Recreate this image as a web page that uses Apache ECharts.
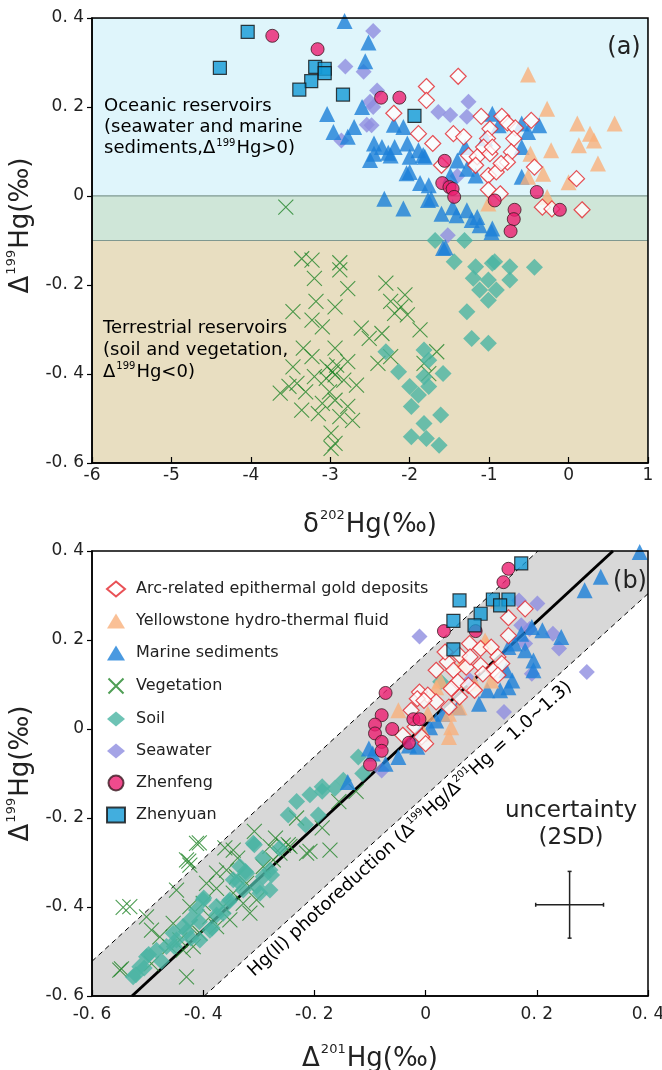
<!DOCTYPE html>
<html>
<head>
<meta charset="utf-8">
<script src="https://cdn.jsdelivr.net/npm/echarts@6/dist/echarts.min.js"></script>
<style>
html,body{margin:0;padding:0;background:#fff;}
#c{width:662px;height:1070px;}
</style>
</head>
<body>
<div id="c"></div>
<script>
// ---------------- DATA ----------------
const seriesNames = ['Arc-related epithermal gold deposits','Yellowstone hydro-thermal fluid','Marine sediments','Vegetation','Soil','Seawater','Zhenfeng','Zhenyuan'];

const topXTicks = [-6,-5,-4,-3,-2,-1,0,1];
const bottomXTicks = [-0.6,-0.4,-0.2,0,0.2,0.4];
const yTicks = [-0.6,-0.4,-0.2,0,0.2,0.4];

// Panel (a): x = δ202Hg, y = Δ199Hg
const zhenyuanTop = [[-4.04,0.369],[-4.39,0.288],[-3.19,0.290],[-3.07,0.286],[-3.07,0.276],[-3.24,0.258],[-3.39,0.239],[-2.84,0.228],[-1.94,0.180]];
const zhenfengTop = [[-3.73,0.360],[-3.16,0.330],[-2.36,0.221],[-2.13,0.221],[-1.56,0.079],[-1.59,0.029],[-1.50,0.020],[-1.46,0.016],[-1.44,-0.002],[-0.93,-0.010],[-0.68,-0.031],[-0.69,-0.052],[-0.73,-0.079],[-0.40,0.009],[-0.11,-0.031]];
const arcTop = [[-1.39,0.269],[-1.79,0.246],[-1.79,0.215],[-2.20,0.186],[-1.89,0.140],[-1.71,0.118],[-1.60,0.069],[-1.45,0.140],[-1.32,0.133],[-1.10,0.179],[-0.84,0.179],[-0.77,0.164],[-0.67,0.153],[-0.47,0.170],[-0.99,0.151],[-1.02,0.129],[-1.07,0.110],[-0.69,0.129],[-1.26,0.091],[-1.15,0.088],[-0.99,0.095],[-0.72,0.099],[-0.77,0.076],[-1.17,0.069],[-1.01,0.046],[-0.91,0.054],[-0.43,0.065],[0.10,0.039],[-1.01,0.014],[-0.86,0.005],[-0.33,-0.025],[-0.21,-0.029],[0.17,-0.031],[-0.96,0.110],[-0.85,0.073]];
const yellowTop = [[-0.51,0.273],[-0.27,0.196],[0.11,0.163],[0.58,0.163],[0.27,0.140],[0.32,0.125],[0.13,0.114],[-0.22,0.103],[0.37,0.073],[-0.48,0.095],[-0.51,0.043],[-0.32,0.050],[0.00,0.031],[-1.01,-0.017],[-0.27,-0.002]];
const marineTop = [[-2.82,0.393],[-2.52,0.345],[-2.56,0.303],[-3.04,0.184],[-2.96,0.144],[-2.78,0.133],[-2.70,0.155],[-2.45,0.118],[-2.35,0.110],[-2.19,0.110],[-2.03,0.118],[-2.45,0.095],[-2.24,0.091],[-2.08,0.155],[-1.89,0.103],[-1.81,0.088],[-2.00,0.054],[-1.76,0.024],[-1.49,0.046],[-1.28,0.061],[-1.17,0.046],[-0.96,0.185],[-0.88,0.159],[-0.59,0.163],[-0.37,0.159],[-0.51,0.144],[-0.59,0.110],[-0.59,0.043],[-2.32,-0.006],[-2.08,-0.028],[-1.73,-0.006],[-1.60,-0.040],[-1.46,-0.025],[-1.28,-0.032],[-1.15,-0.047],[-0.96,-0.073],[-1.12,-0.066],[-1.55,-0.115],[-2.50,0.081],[-2.04,0.051],[-1.77,-0.009],[-1.41,-0.043],[-1.22,-0.054],[-0.97,-0.081],[-1.58,-0.117],[-2.27,0.097],[-2.00,0.088],[-1.83,0.092],[-1.87,0.029],[-1.30,0.110],[-1.05,0.130],[-1.40,0.080],[-2.60,0.200],[-2.20,0.160]];
const seawaterTop = [[-2.46,0.371],[-2.81,0.291],[-2.58,0.279],[-2.41,0.237],[-2.46,0.200],[-2.50,0.212],[-2.48,0.159],[-2.86,0.125],[-1.64,0.189],[-1.49,0.182],[-1.26,0.212],[-1.28,0.178],[-1.40,0.045],[-1.52,-0.088],[-2.54,0.160]];
const soilTop = [[-1.68,-0.100],[-1.31,-0.100],[-1.44,-0.148],[-0.93,-0.148],[-0.43,-0.160],[-1.17,-0.159],[-0.96,-0.151],[-0.74,-0.159],[-1.20,-0.185],[-1.01,-0.189],[-0.74,-0.189],[-1.12,-0.211],[-0.91,-0.211],[-1.01,-0.234],[-1.28,-0.260],[-1.22,-0.320],[-1.01,-0.331],[-2.30,-0.350],[-2.14,-0.395],[-1.82,-0.346],[-1.76,-0.369],[-1.58,-0.399],[-2.00,-0.428],[-1.89,-0.447],[-1.82,-0.406],[-1.98,-0.473],[-1.61,-0.492],[-1.82,-0.511],[-1.98,-0.541],[-1.79,-0.545],[-1.63,-0.560],[-1.76,-0.428]];
const vegetationTop = [[-3.56,-0.025],[-3.36,-0.141],[-3.23,-0.144],[-2.88,-0.150],[-2.88,-0.166],[-3.20,-0.185],[-2.78,-0.208],[-3.47,-0.260],[-3.23,-0.279],[-2.94,-0.249],[-3.18,-0.237],[-3.10,-0.294],[-3.34,-0.342],[-2.94,-0.342],[-2.78,-0.372],[-2.61,-0.297],[-2.51,-0.320],[-2.35,-0.309],[-2.24,-0.237],[-2.19,-0.264],[-2.11,-0.249],[-2.03,-0.267],[-2.30,-0.196],[-2.06,-0.222],[-1.87,-0.301],[-2.24,-0.361],[-2.40,-0.376],[-1.66,-0.350],[-1.82,-0.376],[-1.76,-0.399],[-3.47,-0.384],[-3.42,-0.421],[-3.31,-0.440],[-3.20,-0.406],[-3.04,-0.384],[-2.94,-0.402],[-2.83,-0.414],[-2.67,-0.425],[-3.10,-0.466],[-2.94,-0.459],[-2.78,-0.473],[-3.36,-0.481],[-3.15,-0.489],[-2.88,-0.496],[-2.72,-0.504],[-2.99,-0.533],[-2.94,-0.556],[-2.99,-0.567],[-3.23,-0.361],[-3.01,-0.440],[-3.63,-0.443],[-3.52,-0.428],[-2.97,-0.395],[-3.05,-0.410],[-2.92,-0.380]];

// Panel (b): x = Δ201Hg, y = Δ199Hg
const zhenyuanBottom = [[0.172,0.372],[0.061,0.289],[0.121,0.291],[0.149,0.291],[0.134,0.278],[0.099,0.259],[0.050,0.243],[0.088,0.233],[0.050,0.179]];
const zhenfengBottom = [[0.149,0.360],[0.140,0.330],[0.033,0.220],[0.090,0.220],[-0.072,0.081],[-0.079,0.031],[-0.091,0.010],[-0.091,-0.010],[-0.079,-0.029],[-0.079,-0.049],[-0.060,0.000],[-0.030,-0.031],[-0.022,0.022],[-0.011,0.022],[-0.100,-0.080]];
const arcBottom = [[0.179,0.270],[0.149,0.250],[0.149,0.210],[0.079,0.192],[0.099,0.181],[0.118,0.184],[0.130,0.162],[0.061,0.166],[0.039,0.151],[0.019,0.132],[0.050,0.132],[0.073,0.139],[0.099,0.143],[0.122,0.132],[0.137,0.147],[0.130,0.121],[0.058,0.106],[0.077,0.098],[0.088,0.087],[0.046,0.091],[0.061,0.072],[-0.011,0.083],[0.004,0.076],[0.019,0.061],[-0.015,0.068],[0.042,0.049],[-0.041,-0.014],[-0.019,0.005],[-0.007,-0.018],[0.000,-0.033],[0.035,0.173],[0.080,0.162],[0.103,0.124],[-0.026,0.042],[-0.003,0.064]];
const yellowBottom = [[-0.049,0.042],[0.046,0.004],[0.042,-0.018],[0.065,0.147],[0.107,0.199],[0.118,0.109],[0.042,0.034],[-0.003,-0.010],[0.061,0.049],[0.130,0.289],[0.019,0.094],[0.088,0.102],[0.004,0.034],[0.110,0.192],[0.027,0.109]];
const marineBottom = [[0.385,0.398],[0.315,0.342],[0.286,0.312],[0.210,0.222],[0.244,0.207],[0.191,0.229],[0.179,0.177],[0.194,0.154],[0.160,0.192],[0.145,0.132],[0.156,0.109],[0.134,0.087],[0.111,0.087],[0.096,0.057],[0.149,0.184],[0.194,0.132],[0.149,0.094],[0.019,0.019],[0.008,0.004],[-0.011,-0.010],[-0.030,-0.037],[-0.015,-0.040],[-0.049,-0.063],[-0.072,-0.078],[-0.095,-0.055],[-0.102,-0.044],[-0.140,-0.119],[0.058,0.049],[0.031,0.034],[0.172,0.214]];
const seawaterBottom = [[-0.011,0.208],[0.168,0.289],[0.201,0.282],[0.172,0.233],[0.187,0.225],[0.229,0.214],[0.240,0.181],[0.290,0.128],[0.179,0.192],[0.191,0.124],[0.141,0.038],[-0.079,-0.093],[0.080,0.109]];
const soilBottom = [[-0.521,-0.552],[-0.498,-0.507],[-0.475,-0.522],[-0.506,-0.537],[-0.452,-0.489],[-0.430,-0.455],[-0.407,-0.433],[-0.399,-0.380],[-0.376,-0.418],[-0.354,-0.388],[-0.338,-0.342],[-0.324,-0.320],[-0.308,-0.260],[-0.293,-0.290],[-0.277,-0.328],[-0.263,-0.268],[-0.247,-0.193],[-0.232,-0.163],[-0.208,-0.148],[-0.186,-0.140],[-0.163,-0.133],[-0.216,-0.215],[-0.193,-0.193],[-0.384,-0.447],[-0.422,-0.470],[-0.121,-0.063],[-0.113,-0.100],[-0.148,-0.115],[-0.186,-0.130],[0.027,0.106],
  [-0.310,-0.257],[-0.334,-0.309],[-0.322,-0.324],[-0.346,-0.339],[-0.292,-0.332],[-0.280,-0.317],[-0.304,-0.354],[-0.400,-0.384],[-0.412,-0.407],[-0.424,-0.429],[-0.376,-0.399],[-0.352,-0.384],[-0.436,-0.444],[-0.454,-0.459],[-0.466,-0.489],[-0.484,-0.497],[-0.502,-0.512],[-0.514,-0.534],[-0.526,-0.557],[-0.448,-0.474],[-0.406,-0.474],[-0.388,-0.452],[-0.364,-0.414],[-0.328,-0.362],[-0.280,-0.362],[-0.298,-0.369]];
const vegetationBottom = [[-0.308,-0.230],[-0.247,-0.260],[-0.186,-0.222],[-0.156,-0.163],[-0.125,-0.140],[-0.270,-0.245],[-0.232,-0.200],[-0.407,-0.256],[-0.361,-0.267],[-0.338,-0.290],[-0.426,-0.297],[-0.544,-0.401],[-0.547,-0.539],[-0.208,-0.275],
  [-0.412,-0.257],[-0.346,-0.272],[-0.280,-0.264],[-0.256,-0.261],[-0.214,-0.279],[-0.172,-0.272],[-0.430,-0.294],[-0.424,-0.306],[-0.376,-0.324],[-0.358,-0.317],[-0.394,-0.347],[-0.376,-0.358],[-0.340,-0.332],[-0.322,-0.347],[-0.532,-0.399],[-0.502,-0.422],[-0.448,-0.362],[-0.424,-0.399],[-0.400,-0.392],[-0.388,-0.422],[-0.364,-0.399],[-0.346,-0.369],[-0.328,-0.392],[-0.304,-0.384],[-0.493,-0.452],[-0.478,-0.467],[-0.454,-0.437],[-0.442,-0.474],[-0.424,-0.444],[-0.406,-0.459],[-0.376,-0.444],[-0.352,-0.429],[-0.316,-0.414],[-0.550,-0.542],[-0.493,-0.527],[-0.430,-0.557],[-0.460,-0.489],[-0.436,-0.497],[-0.418,-0.489],[-0.274,-0.294],[-0.262,-0.279],[-0.244,-0.264],[-0.292,-0.309]];

// Reservoir bands in panel (a): [upper Δ199Hg, lower Δ199Hg]
const topBands = [[0.4,0],[0,-0.1],[-0.1,-0.6]];
// Photoreduction band in panel (b)
const bandPolygon = [[-0.6,-0.522],[0.202,0.4],[0.4,0.4],[0.4,0.304],[-0.398,-0.6],[-0.6,-0.6]];
const upperDashed = [[-0.6,-0.522],[0.202,0.4]];
const lowerDashed = [[-0.398,-0.6],[0.4,0.304]];
const centerLine = [[-0.528,-0.6],[0.337,0.4]];
// Uncertainty (2SD): [x, y, half-width x, half-width y]
const uncertainty = [[0.259,-0.395,0.061,0.075]];

// ---------------- STYLE ----------------
const FONT = '"DejaVu Sans", "Liberation Sans", sans-serif';
const bandColors = ['#dff5fb','#cfe6d8','#e8dec1'];
const styles = {
  'Arc-related epithermal gold deposits': {symbol:'diamond', size:16, itemStyle:{color:'#ffffff', borderColor:'#e3262c', borderWidth:1.2}},
  'Yellowstone hydro-thermal fluid': {symbol:'triangle', size:16, itemStyle:{color:'#f9b07c'}},
  'Marine sediments': {symbol:'triangle', size:16, itemStyle:{color:'#1c7fd8'}},
  'Vegetation': {symbol:'path://M0,0L10,10M10,0L0,10', size:15, itemStyle:{color:'none', borderColor:'#23862b', borderWidth:1.1}},
  'Soil': {symbol:'diamond', size:17, itemStyle:{color:'#4ab4a2'}},
  'Seawater': {symbol:'diamond', size:16, itemStyle:{color:'#8f8de0'}},
  'Zhenfeng': {symbol:'circle', size:13, itemStyle:{color:'#ec1e70', borderColor:'#3a1a22', borderWidth:1}},
  'Zhenyuan': {symbol:'rect', size:13, itemStyle:{color:'#139ad6', borderColor:'#111', borderWidth:1.2}}
};
const drawOrder = ['Vegetation','Soil','Seawater','Marine sediments','Yellowstone hydro-thermal fluid','Arc-related epithermal gold deposits','Zhenfeng','Zhenyuan'];
const topData = {'Arc-related epithermal gold deposits':arcTop,'Yellowstone hydro-thermal fluid':yellowTop,'Marine sediments':marineTop,'Vegetation':vegetationTop,'Soil':soilTop,'Seawater':seawaterTop,'Zhenfeng':zhenfengTop,'Zhenyuan':zhenyuanTop};
const bottomData = {'Arc-related epithermal gold deposits':arcBottom,'Yellowstone hydro-thermal fluid':yellowBottom,'Marine sediments':marineBottom,'Vegetation':vegetationBottom,'Soil':soilBottom,'Seawater':seawaterBottom,'Zhenfeng':zhenfengBottom,'Zhenyuan':zhenyuanBottom};

function fmt(v){
  if (Math.abs(v) < 1e-9) return '0';
  if (Number.isInteger(v)) return String(v);
  return v.toFixed(1).replace('.', '. ');
}
const nameRich = {
  a:{fontSize:26, fontFamily:FONT, color:'#222', lineHeight:32},
  s:{fontSize:13, fontFamily:FONT, color:'#222', verticalAlign:'top', lineHeight:32, padding:[0,1,14,1]}
};

function axisCommonX(gridIndex, min, max, interval, nameText, gap, margin){
  return {
    type:'value', gridIndex, min, max, interval,
    name:nameText, nameLocation:'middle', nameGap:gap,
    nameTextStyle:{rich:nameRich},
    axisLine:{show:true, onZero:false, lineStyle:{color:'#000', width:1.5}},
    axisTick:{show:true, inside:true, length:6, lineStyle:{color:'#000', width:1.2}},
    axisLabel:{fontSize:17, fontFamily:FONT, color:'#222', margin, formatter:fmt, showMaxLabel:true, showMinLabel:true},
    splitLine:{show:false}
  };
}
function axisCommonY(gridIndex, nameText, namePad){
  return {
    type:'value', gridIndex, min:-0.6, max:0.4, interval:0.2,
    name:nameText, nameLocation:'middle', nameGap:48,
    nameTextStyle:{rich:nameRich, padding:namePad},
    axisLine:{show:true, onZero:false, lineStyle:{color:'#000', width:1.5}},
    axisTick:{show:true, inside:false, length:5, lineStyle:{color:'#000', width:1.2}},
    axisLabel:{fontSize:17, fontFamily:FONT, color:'#222', margin:8, formatter:fmt},
    splitLine:{show:false}
  };
}

const series = [];
// bands in panel (a)
series.push({
  type:'custom', xAxisIndex:0, yAxisIndex:0, z:0, silent:true, clip:true,
  data: topBands.map((b,i)=>[b[0], b[1], i]),
  encode:{y:[0,1]},
  renderItem:function(params, api){
    const p0 = api.coord([topXTicks[0], api.value(0)]);
    const p1 = api.coord([topXTicks[topXTicks.length-1], api.value(1)]);
    return {type:'rect', shape:{x:p0[0], y:p0[1], width:p1[0]-p0[0], height:p1[1]-p0[1]},
      style:{fill:bandColors[api.value(2)], stroke:'#7f9890', lineWidth:1}};
  }
});
// band polygon in panel (b)
series.push({
  type:'custom', xAxisIndex:1, yAxisIndex:1, z:0, silent:true, clip:true,
  data: bandPolygon,
  renderItem:function(params, api){
    if (params.dataIndex !== 0) return null;
    return {type:'polygon', shape:{points: bandPolygon.map(p=>api.coord(p))}, style:{fill:'#d8d8d8'}};
  }
});
series.push({type:'line', xAxisIndex:1, yAxisIndex:1, z:1, silent:true, symbol:'none', data:upperDashed, lineStyle:{color:'#000', width:1, type:[5,4]}});
series.push({type:'line', xAxisIndex:1, yAxisIndex:1, z:1, silent:true, symbol:'none', data:lowerDashed, lineStyle:{color:'#000', width:1, type:[5,4]}});
series.push({type:'line', xAxisIndex:1, yAxisIndex:1, z:1, silent:true, symbol:'none', data:centerLine, lineStyle:{color:'#000', width:3}});
// uncertainty cross
series.push({
  type:'custom', xAxisIndex:1, yAxisIndex:1, z:1, silent:true,
  data: uncertainty,
  renderItem:function(params, api){
    const x=api.value(0), y=api.value(1), dx=api.value(2), dy=api.value(3);
    const l=api.coord([x-dx,y]), r=api.coord([x+dx,y]), t=api.coord([x,y+dy]), b=api.coord([x,y-dy]);
    const st={stroke:'#222', lineWidth:1.5};
    return {type:'group', children:[
      {type:'line', shape:{x1:l[0],y1:l[1],x2:r[0],y2:r[1]}, style:st},
      {type:'line', shape:{x1:t[0],y1:t[1],x2:b[0],y2:b[1]}, style:st},
      {type:'line', shape:{x1:l[0],y1:l[1]-2,x2:l[0],y2:l[1]+2}, style:st},
      {type:'line', shape:{x1:r[0],y1:r[1]-2,x2:r[0],y2:r[1]+2}, style:st},
      {type:'line', shape:{x1:t[0]-2,y1:t[1],x2:t[0]+2,y2:t[1]}, style:st},
      {type:'line', shape:{x1:b[0]-2,y1:b[1],x2:b[0]+2,y2:b[1]}, style:st}
    ]};
  }
});
drawOrder.forEach((name, k)=>{
  const s = styles[name];
  [[0, topData[name]], [1, bottomData[name]]].forEach(([gi, data])=>{
    series.push({
      type:'scatter', name, xAxisIndex:gi, yAxisIndex:gi, z:3+k,
      symbol:s.symbol, symbolSize:s.size, itemStyle:s.itemStyle,
      data, emphasis:{disabled:true}
    });
  });
});

const chart = echarts.init(document.getElementById('c'), null, {renderer:'canvas', width:662, height:1070});
chart.setOption({
  animation:false,
  backgroundColor:'#ffffff',
  textStyle:{fontFamily:FONT},
  grid:[
    {left:92, top:18, width:556, height:445, outerBoundsMode:'none', containLabel:false, show:true, borderColor:'#000', borderWidth:1.5, backgroundColor:'transparent', z:10},
    {left:92, top:551, width:556, height:445, outerBoundsMode:'none', containLabel:false, show:true, borderColor:'#000', borderWidth:1.5, backgroundColor:'transparent', z:10}
  ],
  xAxis:[
    axisCommonX(0, -6, 1, 1, '{a|δ}{s|202}{a|Hg(‰)}', 46, 4),
    axisCommonX(1, -0.6, 0.4, 0.2, '{a|Δ}{s|201}{a|Hg(‰)}', 47, 10)
  ],
  yAxis:[
    axisCommonY(0, '{a|Δ}{s|199}{a|Hg(‰)}', [0,0,0,30]),
    axisCommonY(1, '{a|Δ}{s|199}{a|Hg(‰)}', [0,0,0,0])
  ],
  legend:{
    orient:'vertical', left:101, top:575, itemWidth:18, itemHeight:15, itemGap:14,
    data:seriesNames, selectedMode:false,
    textStyle:{fontSize:16, fontFamily:FONT, color:'#222', lineHeight:18, padding:[0,0,0,6]}
  },
  graphic:[
    {type:'text', x:624, y:48, z:100, style:{text:'(a)', font:'24px '+FONT, fill:'#222', align:'center', verticalAlign:'middle'}},
    {type:'text', x:630, y:582, z:100, style:{text:'(b)', font:'24px '+FONT, fill:'#222', align:'center', verticalAlign:'middle'}},
    {type:'text', x:104, y:96, z:100, style:{
      text:'{t|Oceanic reservoirs}\n{t|(seawater and marine}\n{t|sediments,Δ}{s|199}{t|Hg>0)}',
      rich:{t:{fontSize:18, fontFamily:FONT, color:'#222', lineHeight:21}, s:{fontSize:10, fontFamily:FONT, color:'#222', verticalAlign:'top', lineHeight:21, padding:[0,1,9,1]}},
      align:'left', verticalAlign:'top'}},
    {type:'text', x:103, y:317, z:100, style:{
      text:'{t|Terrestrial reservoirs}\n{t|(soil and vegetation,}\n{t|Δ}{s|199}{t|Hg<0)}',
      rich:{t:{fontSize:18, fontFamily:FONT, color:'#222', lineHeight:22}, s:{fontSize:10, fontFamily:FONT, color:'#222', verticalAlign:'top', lineHeight:22, padding:[0,1,9,1]}},
      align:'left', verticalAlign:'top'}},
    {type:'text', x:571, y:825, z:100, style:{
      text:'uncertainty\n(2SD)', font:'23px '+FONT, fill:'#222', align:'center', verticalAlign:'middle', lineHeight:27}},
    {type:'text', x:410, y:829, rotation:0.737, z:100, style:{
      text:'{t|Hg(II) photoreduction (Δ}{s|199}{t|Hg/Δ}{s|201}{t|Hg = 1.0~1.3)}',
      rich:{t:{fontSize:18, fontFamily:FONT, color:'#222', lineHeight:22}, s:{fontSize:10, fontFamily:FONT, color:'#222', verticalAlign:'top', lineHeight:22, padding:[0,0,9,0]}},
      align:'center', verticalAlign:'middle'}}
  ],
  series
});
</script>
</body>
</html>
